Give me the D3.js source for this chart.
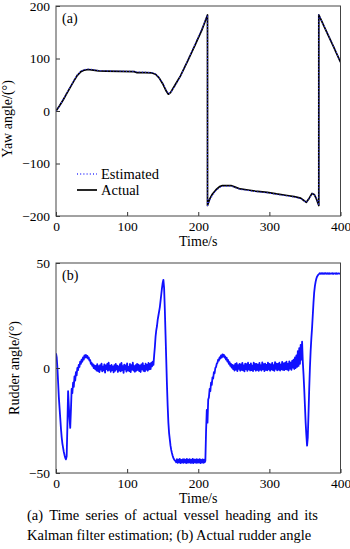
<!DOCTYPE html>
<html>
<head>
<meta charset="utf-8">
<script src="https://cdn.jsdelivr.net/npm/d3@7"></script>
<style>
body { margin: 0; background: #fff; }
svg text { font-family: "Liberation Serif", "Times New Roman", serif; fill: #000; }
</style>
</head>
<body>
<svg id="chart" width="350" height="549"></svg>
<script>
// ---- data ----
const timeTicks = [0, 100, 200, 300, 400];
const yawTicks = [-200, -100, 0, 100, 200];
const rudderTicks = [-50, 0, 50];

// heading, deg (wraps at +/-180, so the jumps repeat a time value)
const yawTime = [0,5,10,15,20,25,30,35,40,45, 50,60,70,90,110,114,125,135,140,145,
  150,155,158,161,168,175,185,195,205,213, 213,216,220,225,230,234,246,252,259,270,
  280,297,310,325,335,344,348,352,356,360, 363,366,369.5,369.5,380,390,400];
const yawActual = [0,10,21,33,45,57,68,75,78,79, 78.5,76.5,76,75.5,75,73,73,72.5,70,63,
  52,38,32,35,51,67,95,124,154,183, -180,-168,-158,-150,-144,-142,-142,-145,-148.5,-150.5,
  -152.5,-155,-158,-161,-163,-166,-170,-174,-166,-157, -159,-167,-180,183,152,123,93];
const yawEstimated = [0,9,22,34,46,58,69,76,79,80, 79.5,77,76.5,76,75.5,74.5,74,73,71,64,
  54,40,33,34,49,66,96,126,156,183, -180,-170,-161,-152,-146,-144,-143,-146,-149.5,-151.5,
  -153.5,-156,-159,-162,-164,-167,-171,-174,-167,-158, -158,-166,-180,183,153,124,94];

// rudder angle, deg, one sample per second from t = 0
const rudderStep = 1;
const rudderAngle = [
  7,5,0,-7,-14,-19,-24,-29,-33,-36,                       // 0
  -38,-40,-41.5,-42.8,-43.5,-42,-28,-11,-18,-24,          // 10
  -28.5,-20,-10,-12,-7,-9,-4,-6,-2,-3.5,                  // 20
  0,-1,1.5,0.5,3,2,4,3,5,4,                               // 30
  6,5,6.2,5,5.8,4.5,5,3.5,3.8,2,                          // 40
  2.5,1,1.8,0,1.2,-0.5,1,-1.2,1.8,-1.5,                   // 50
  0.9,-2.0,1.4,-0.8,2.1,-1.6,0.6,-1.1,1.7,-2.2,           // 60
  1.2,-0.5,1.9,-1.3,2.6,-0.9,1.0,-1.8,1.5,-1.0,           // 70
  0.7,-2.1,1.3,-1.4,2.0,-0.7,1.1,-1.9,0.8,-1.2,           // 80
  1.8,-1.6,2.4,-1.0,0.9,-2.3,1.6,-0.6,1.2,-1.7,           // 90
  2.2,-1.1,0.5,-1.5,1.9,-2.0,1.3,-0.8,2.5,-1.2,           // 100
  0.9,-1.8,1.4,-1.3,2.0,-0.9,1.6,-1.5,1.1,-1.9,           // 110
  1.7,-0.6,2.3,-1.4,1.0,-1.6,2.1,-0.8,1.5,-1.3,           // 120
  2.4,-0.7,1.9,-0.5,2.6,0.8,3.0,1.5,6,10,                 // 130
  15,18,20,23,25,27,29,32,35,38,                          // 140
  40.5,42,38,28,16,4,-8,-18,-26,-31,                      // 150
  -34,-37,-39,-40.5,-41.8,-42.8,-43.5,-44,-44.3,-44.9,    // 160
  -43.4,-45.2,-43.6,-44.9,-43.3,-45.3,-43.8,-45.0,-43.5,-45.2, // 170
  -43.4,-44.9,-43.7,-45.3,-43.3,-45.1,-43.6,-45.0,-43.4,-45.2, // 180
  -43.8,-45.1,-43.3,-45.3,-43.5,-44.9,-43.6,-45.2,-43.4,-45.1, // 190
  -43.6,-45.0,-43.4,-45.3,-43.7,-45.0,-43.5,-45.2,-43.6,-44.9, // 200
  -44.2,-30,-20,-26,-15,-14,-10,-11,-7,-8,                // 210
  -4.5,-5,-2,-2.5,0,0.5,2,2.5,4,3.5,                      // 220
  5,4.5,6,5,6.5,5.5,6.3,5,5.5,4,                          // 230
  4.8,3,3.8,2,2.8,1,2,0.2,1.5,-0.5,                       // 240
  1.2,-1.2,1.9,-0.8,2.3,-1.5,1.4,-0.4,2.0,-1.3,           // 250
  1.7,-0.9,2.4,-1.1,1.2,-1.6,2.1,-0.5,1.8,-1.4,           // 260
  2.5,-0.7,1.5,-1.2,2.2,-1.0,1.1,-1.5,2.6,-0.6,           // 270
  1.9,-1.3,2.0,-0.9,1.6,-1.4,2.4,-0.8,1.3,-1.2,           // 280
  2.7,-0.5,1.8,-1.5,2.1,-0.9,1.5,-1.1,2.6,-0.6,           // 290
  2.0,-1.3,1.7,-0.7,2.4,-1.0,1.4,-1.4,2.8,-0.4,           // 300
  2.1,-1.1,1.9,-0.8,2.5,-1.2,1.6,-0.6,2.9,-0.9,           // 310
  2.2,-1.0,2.4,-0.5,3.0,-0.8,2.0,-1.2,3.2,-0.3,           // 320
  2.6,-0.9,3.4,0.2,4,-0.5,5,0,6,0.5,                      // 330
  8,1,9.5,2,11,4,12.5,3,-3,-10,                           // 340
  -18,-26,-32,-37,-33,-22,-10,0,8,14,                     // 350
  19,25,31,36,39,41,42.5,43.5,44,44.5,                    // 360
  44.8,45.2,44.9,45.1,44.8,45.2,44.9,45.1,44.8,45.2,      // 370
  45.0,44.8,45.1,44.9,45.2,44.8,45.0,45.1,44.9,45.2,      // 380
  44.8,45.0,45.1,44.9,45.2,44.8,45.0,45.1,44.9,45.0,      // 390
  45.0                                                    // 400
];

const legendLabels = ['Estimated', 'Actual'];
const captionLines = [
  '(a) Time series of actual vessel heading and its',
  'Kalman filter estimation; (b) Actual rudder angle'
];

class TimePanel {

  constructor(_config) {
    this.config = {
      parentElement: _config.parentElement,
      top: _config.top,
      bottom: _config.bottom,
      left: 56,
      right: 340.5,
      yDomain: _config.yDomain,
      yTicks: _config.yTicks,
      yLabel: _config.yLabel,
      yLabelX: _config.yLabelX,
      yLabelY: _config.yLabelY,
      tag: _config.tag
    };
    this.initVis();
  }

  initVis() {
    let vis = this;
    let c = vis.config;
    vis.svg = d3.select(c.parentElement);
    vis.g = vis.svg.append('g');

    vis.xScale = d3.scaleLinear().domain([0, 400]).range([c.left, c.right]);
    vis.yScale = d3.scaleLinear().domain(c.yDomain).range([c.bottom, c.top]);

    // clip so lines stay in the box
    vis.clipId = 'clip-' + c.tag.replace(/\W/g, '');
    vis.svg.append('clipPath').attr('id', vis.clipId)
      .append('rect')
      .attr('x', c.left).attr('y', c.top)
      .attr('width', c.right - c.left).attr('height', c.bottom - c.top);
    vis.plot = vis.g.append('g').attr('clip-path', `url(#${vis.clipId})`);

    // axes with ticks pointing inward
    vis.g.append('g')
      .attr('transform', `translate(0, ${c.bottom})`)
      .call(d3.axisBottom(vis.xScale).tickValues(timeTicks).tickSizeInner(-4).tickSizeOuter(0).tickPadding(5))
      .call(g => g.select('.domain').remove())
      .call(g => g.selectAll('line').attr('stroke', '#333'))
      .call(g => g.selectAll('text').style('font-size', '13.5px').style('font-family', '"Liberation Serif", serif').attr('fill', '#000'));

    vis.g.append('g')
      .attr('transform', `translate(${c.left}, 0)`)
      .call(d3.axisLeft(vis.yScale).tickValues(c.yTicks).tickSizeInner(-4).tickSizeOuter(0).tickPadding(6)
        .tickFormat(d => d < 0 ? '\u2212' + Math.abs(d) : d))
      .call(g => g.select('.domain').remove())
      .call(g => g.selectAll('line').attr('stroke', '#333'))
      .call(g => g.selectAll('text').style('font-size', '13.5px').style('font-family', '"Liberation Serif", serif').attr('fill', '#000'));

    vis.g.append('rect')
      .attr('x', c.left).attr('y', c.top)
      .attr('width', c.right - c.left).attr('height', c.bottom - c.top)
      .attr('fill', 'none').attr('stroke', '#444').attr('stroke-width', 1);

    vis.g.append('text')
      .attr('x', (c.left + c.right) / 2)
      .attr('y', c.bottom + 30)
      .attr('text-anchor', 'middle')
      .style('font-size', '14px')
      .text('Time/s');

    vis.g.append('text')
      .attr('transform', `translate(${c.yLabelX}, ${c.yLabelY}) rotate(-90)`)
      .attr('text-anchor', 'middle')
      .style('font-size', '14px')
      .text(c.yLabel);

    vis.g.append('text')
      .attr('x', c.left + 6)
      .attr('y', c.top + 17)
      .style('font-size', '14px')
      .text(c.tag);
  }

  addLine(_xs, _ys, _color, _width, _dash) {
    let vis = this;
    let pts = _ys.map((v, i) => [_xs[i], v]);
    let line = d3.line()
      .x(d => vis.xScale(d[0]))
      .y(d => vis.yScale(d[1]));
    let path = vis.plot.append('path')
      .datum(pts)
      .attr('d', line)
      .attr('fill', 'none')
      .attr('stroke', _color)
      .attr('stroke-width', _width)
      .attr('stroke-linejoin', 'round');
    if (_dash) path.attr('stroke-dasharray', _dash);
    return path;
  }
}

const svg = d3.select('#chart');

// (a) heading
const yawPanel = new TimePanel({
  parentElement: '#chart', top: 6, bottom: 216,
  yDomain: [-200, 200], yTicks: yawTicks,
  yLabel: 'Yaw angle/(\u00B0)', yLabelX: 12, yLabelY: 119, tag: '(a)'
});
yawPanel.addLine(yawTime, yawActual, '#000', 1.7);
yawPanel.addLine(yawTime, yawEstimated, '#3a3aff', 1.1, '1,2.2');

// legend
const legendStyles = [
  {color: '#3a3aff', width: 1.3, dash: '1,2.2'},
  {color: '#000', width: 1.7, dash: null}
];
const legend = svg.append('g');
legendLabels.forEach((lab, i) => {
  const y = 174 + i * 16;
  const ln = legend.append('line')
    .attr('x1', 77).attr('x2', 97).attr('y1', y).attr('y2', y)
    .attr('stroke', legendStyles[i].color)
    .attr('stroke-width', legendStyles[i].width);
  if (legendStyles[i].dash) ln.attr('stroke-dasharray', legendStyles[i].dash);
  legend.append('text')
    .attr('x', 101).attr('y', y + 4.5)
    .style('font-size', '14.5px')
    .text(lab);
});

// (b) rudder
const rudderPanel = new TimePanel({
  parentElement: '#chart', top: 263, bottom: 473,
  yDomain: [-50, 50], yTicks: rudderTicks,
  yLabel: 'Rudder angle/(\u00B0)', yLabelX: 19, yLabelY: 368, tag: '(b)'
});
rudderPanel.addLine(rudderAngle.map((d, i) => i * rudderStep), rudderAngle, '#1010ff', 1.8);

// caption, first line spread to the full width like the print
const capLeft = 27, capRight = 318;
captionLines.forEach((line, i) => {
  const y = 520 + i * 19.5;
  if (i === 0) {
    const words = line.split(' ');
    const t = svg.append('text').attr('y', y).style('font-size', '14.5px');
    const spans = words.map(w => t.append('tspan').text(w));
    const widths = spans.map(s => s.node().getComputedTextLength());
    const gap = (capRight - capLeft - d3.sum(widths)) / (words.length - 1);
    let x = capLeft;
    spans.forEach((s, k) => { s.attr('x', x); x += widths[k] + gap; });
  } else {
    svg.append('text').attr('x', capLeft).attr('y', y)
      .style('font-size', '14.5px')
      .text(line);
  }
});
</script>
</body>
</html>
